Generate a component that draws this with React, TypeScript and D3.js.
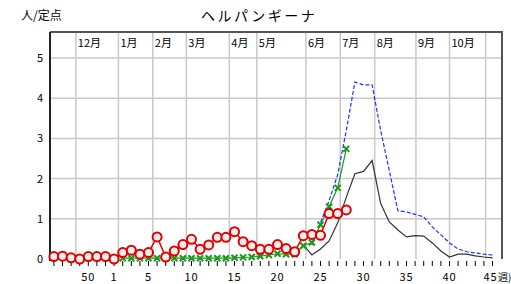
import React, { useEffect, useRef } from 'react';
import * as d3 from 'd3';

// 週 (46週〜翌45週)
const weeks = [46, 47, 48, 49, 50, 51, 52, 1, 2, 3, 4, 5, 6, 7, 8, 9, 10, 11, 12, 13, 14, 15, 16, 17, 18, 19, 20, 21, 22, 23, 24, 25, 26, 27, 28, 29, 30, 31, 32, 33, 34, 35, 36, 37, 38, 39, 40, 41, 42, 43, 44, 45];
const weekLabels = [50, 1, 5, 10, 15, 20, 25, 30, 35, 40, 45];
const yTicks = [0, 1, 2, 3, 4, 5];

// 月の区切り (週インデックス上の位置)
const months = ['12月', '1月', '2月', '3月', '4月', '5月', '6月', '7月', '8月', '9月', '10月', ''];
const monthStarts = [2.55, 7.5, 11.5, 15.4, 20.4, 23.6, 29.3, 33.3, 37.3, 42.1, 46.0, 50.2];

// 今シーズン (赤丸) 46週〜28週
const current = [0.06, 0.07, 0.03, 0.0, 0.06, 0.06, 0.06, 0.0,
  0.16, 0.22, 0.12, 0.16, 0.55, 0.05, 0.2, 0.36, 0.49, 0.24, 0.35, 0.54, 0.54, 0.68, 0.43, 0.33, 0.24, 0.24, 0.36, 0.26, 0.18,
  0.58, 0.61, 0.59, 1.13, 1.13, 1.22];
// 前シーズン (緑×) 2週〜28週
const lastSeason = [0.02, 0.02, 0.02, 0.02, 0.02, 0.02, 0.02, 0.02, 0.02, 0.02, 0.02, 0.02, 0.02, 0.03,
  0.04, 0.05, 0.07, 0.1, 0.13, 0.12, 0.12, 0.33, 0.41, 0.85, 1.3, 1.77, 2.74];
// 黒線 23週〜45週
const season2 = [0.35, 0.1, 0.25, 0.45, 0.9, 1.54, 2.12, 2.18, 2.45, 1.38, 0.92, 0.72, 0.55, 0.58, 0.57, 0.4, 0.2, 0.05, 0.12, 0.12, 0.08, 0.05, 0.03];
// 青破線 24週〜45週
const season3 = [0.35, 0.9, 1.45, 2.1, 3.2, 4.4, 4.33, 4.33, 3.19, 2.2, 1.2, 1.17, 1.11, 1.05, 0.8, 0.6, 0.4, 0.25, 0.18, 0.15, 0.12, 0.1];

const toPoints = (vals: number[], startWeek: number) => {
  const s = weeks.indexOf(startWeek);
  return vals.map((v, k) => ({ i: s + k, v }));
};

const App = () => {
  const ref = useRef<SVGSVGElement>(null);

  useEffect(() => {
    const svg = d3.select(ref.current);
    svg.selectAll('*').remove();

    const left = 50, right = 502, top = 32, headBottom = 58, bottom = 259;
    const x = d3.scaleLinear().domain([0, weeks.length - 1]).range([53.9, 492.5]);
    const y = d3.scaleLinear().domain([0, 5]).range([bottom, headBottom]);
    const jp = '"Noto Sans CJK JP", sans-serif';

    // 横グリッド
    svg.append('g').selectAll('line').data(yTicks.filter(d => d > 0)).enter().append('line')
      .attr('x1', left).attr('x2', right).attr('y1', d => y(d)).attr('y2', d => y(d))
      .attr('stroke', '#c8c8c8').attr('stroke-width', 1.5);

    // 月の縦線
    svg.append('g').selectAll('line').data(monthStarts).enter().append('line')
      .attr('x1', d => x(d)).attr('x2', d => x(d)).attr('y1', top).attr('y2', bottom)
      .attr('stroke', '#c8c8c8').attr('stroke-width', 1.5);

    // 月ラベル
    svg.append('g').selectAll('text').data(months).enter().append('text')
      .attr('x', (d, k) => x(monthStarts[k]) + 2).attr('y', 47)
      .attr('font-family', jp).attr('font-size', 11).attr('fill', '#000')
      .text(d => d);

    // 枠
    svg.append('path')
      .attr('d', `M${left},${top}H${right}V${bottom}`)
      .attr('fill', 'none').attr('stroke', '#555').attr('stroke-width', 2);
    svg.append('line').attr('x1', left).attr('x2', left).attr('y1', top).attr('y2', bottom + 2)
      .attr('stroke', '#222').attr('stroke-width', 2);

    // 週の目盛
    svg.append('g').selectAll('line').data(weeks).enter().append('line')
      .attr('x1', (d, i) => x(i)).attr('x2', (d, i) => x(i)).attr('y1', bottom + 2).attr('y2', bottom + 7)
      .attr('stroke', '#000').attr('stroke-width', 1);

    // 週ラベル
    svg.append('g').selectAll('text').data(weekLabels).enter().append('text')
      .attr('x', d => x(weeks.indexOf(d)) - (d === 45 ? 2 : 0)).attr('y', 281)
      .attr('text-anchor', 'middle').attr('font-family', jp).attr('font-size', 11)
      .attr('letter-spacing', 1).attr('fill', '#000')
      .text(d => d);
    svg.append('text').attr('x', 498).attr('y', 281)
      .attr('font-family', jp).attr('font-size', 10).attr('fill', '#000').text('週)');

    // Y ラベル
    svg.append('g').selectAll('text').data(yTicks).enter().append('text')
      .attr('x', 40).attr('y', d => y(d) + 4).attr('text-anchor', 'middle')
      .attr('font-family', jp).attr('font-size', 11).attr('fill', '#000')
      .text(d => d);

    svg.append('text').attr('x', 21).attr('y', 20).attr('font-family', jp).attr('font-size', 12)
      .attr('fill', '#000').text('人/定点');
    svg.append('text').attr('x', 201).attr('y', 21).attr('font-family', jp).attr('font-size', 14)
      .attr('letter-spacing', 2.5).attr('fill', '#000').text('ヘルパンギーナ');

    const line = d3.line<{ i: number; v: number }>().x(d => x(d.i)).y(d => y(d.v));

    // 青破線
    svg.append('path').datum(toPoints(season3, 24)).attr('d', line)
      .attr('fill', 'none').attr('stroke', '#2030ff').attr('stroke-width', 1.2).attr('stroke-dasharray', '4,2');
    // 黒線
    svg.append('path').datum(toPoints(season2, 23)).attr('d', line)
      .attr('fill', 'none').attr('stroke', '#333').attr('stroke-width', 1.2);

    // 緑×
    const g = toPoints(lastSeason, 2);
    svg.append('path').datum(g).attr('d', line)
      .attr('fill', 'none').attr('stroke', '#1a9a1a').attr('stroke-width', 1.2);
    svg.append('g').selectAll('path').data(g).enter().append('path')
      .attr('d', d => {
        const cx = x(d.i), cy = y(d.v), s = 3;
        return `M${cx - s},${cy - s}L${cx + s},${cy + s}M${cx - s},${cy + s}L${cx + s},${cy - s}`;
      })
      .attr('stroke', '#1a9a1a').attr('stroke-width', 2);

    // 赤丸
    const r = toPoints(current, 46);
    svg.append('path').datum(r).attr('d', line)
      .attr('fill', 'none').attr('stroke', '#e00000').attr('stroke-width', 1.5);
    svg.append('g').selectAll('circle').data(r).enter().append('circle')
      .attr('cx', d => x(d.i)).attr('cy', d => y(d.v)).attr('r', 4.5)
      .attr('fill', '#eeeeee').attr('stroke', '#e00000').attr('stroke-width', 2);
  }, []);

  return (
    <svg ref={ref} width={511} height={284}
      style={{ position: 'absolute', left: 0, top: 0, background: '#fff' }} />
  );
};

export default App;
